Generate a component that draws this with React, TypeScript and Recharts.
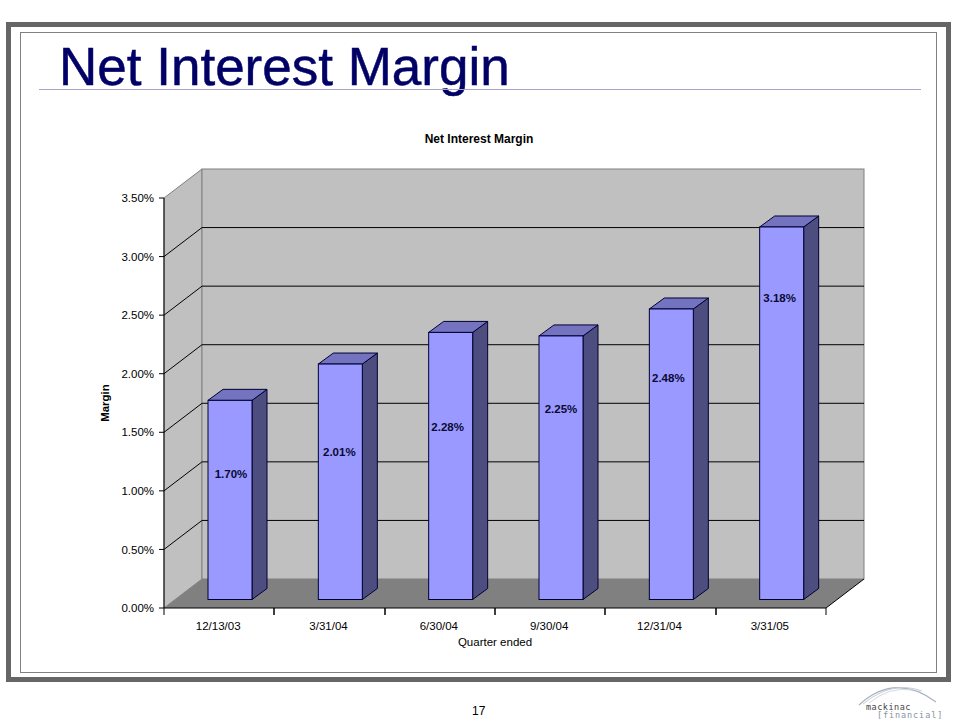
import { BarChart, Bar, XAxis, YAxis, ReferenceArea, ReferenceLine, LabelList } from "recharts";

const quarters = ["12/13/03", "3/31/04", "6/30/04", "9/30/04", "12/31/04", "3/31/05"];
const margins = [1.7, 2.01, 2.28, 2.25, 2.48, 3.18];
const marginTicks = [0, 0.5, 1, 1.5, 2, 2.5, 3, 3.5];
const gridValues = [0.5, 1, 1.5, 2, 2.5, 3];

// hand placed data labels, same as the original slide
const labelNudgeX = [1, -1, -3, 0, -3, -2];
const labelNudgeY = [74, 88, 95, 73, 69, 71];

const data = quarters.map((quarter, i) => ({ quarter, margin: margins[i] }));

const FONT = "'Liberation Sans', Arial, sans-serif";
const MONO = "'DejaVu Sans Mono', monospace";
const DEPTH_X = 38;
const DEPTH_Y = 29;
const BAR_DX = 11;
const BAR_DY = 8.5;
const SIDE_X = 15;
const SIDE_Y = 11;

const pct = (v: number) => v.toFixed(2) + "%";

function Walls({ x, y, width, height }: any) {
  const r = x + width;
  const b = y + height;
  return (
    <g>
      <polygon
        points={`${x},${y} ${x + DEPTH_X},${y - DEPTH_Y} ${x + DEPTH_X},${b - DEPTH_Y} ${x},${b}`}
        fill="#c0c0c0"
        stroke="#808080"
      />
      <rect x={x + DEPTH_X} y={y - DEPTH_Y} width={width} height={height} fill="#c0c0c0" stroke="#808080" />
      <polygon
        points={`${x},${b} ${r},${b} ${r + DEPTH_X},${b - DEPTH_Y} ${x + DEPTH_X},${b - DEPTH_Y}`}
        fill="#808080"
      />
      <line x1={r} y1={b} x2={r + DEPTH_X} y2={b - DEPTH_Y} stroke="#000" />
    </g>
  );
}

function GridLine({ x1, y1, x2, y2 }: any) {
  return (
    <polyline
      points={`${x1},${y1} ${x1 + DEPTH_X},${y1 - DEPTH_Y} ${x2 + DEPTH_X},${y2 - DEPTH_Y}`}
      fill="none"
      stroke="#000"
      strokeWidth={1}
    />
  );
}

function Bar3D({ x, y, width, height }: any) {
  const l = x + BAR_DX;
  const r = l + width;
  const t = y - BAR_DY;
  const b = t + height;
  const stroke = "#000033";
  return (
    <g>
      <polygon
        points={`${r},${t} ${r + SIDE_X},${t - SIDE_Y} ${r + SIDE_X},${b - SIDE_Y} ${r},${b}`}
        fill="#4d4d80"
        stroke={stroke}
      />
      <polygon
        points={`${l},${t} ${l + SIDE_X},${t - SIDE_Y} ${r + SIDE_X},${t - SIDE_Y} ${r},${t}`}
        fill="#7373bf"
        stroke={stroke}
      />
      <rect x={l} y={t} width={width} height={height} fill="#9999ff" stroke={stroke} />
    </g>
  );
}

function ValueLabel({ x, y, width, value, index }: any) {
  return (
    <text
      x={x + BAR_DX + width / 2 + labelNudgeX[index]}
      y={y - BAR_DY + labelNudgeY[index]}
      textAnchor="middle"
      dominantBaseline="central"
      fontFamily={FONT}
      fontSize={11.5}
      fontWeight="bold"
      fill="#0a0a33"
    >
      {pct(value)}
    </text>
  );
}

function QuarterTick({ x, y, width, payload }: any) {
  const half = width / quarters.length / 2;
  const left = Math.round(x - half);
  const right = Math.round(x + half);
  return (
    <g>
      <line x1={left} y1={y - 8} x2={left} y2={y - 1} stroke="#000" />
      <line x1={right} y1={y - 8} x2={right} y2={y - 1} stroke="#000" />
      <text x={x - 1} y={y + 10} textAnchor="middle" dominantBaseline="central" fontFamily={FONT} fontSize={11.5} fill="#000">
        {payload.value}
      </text>
    </g>
  );
}

function Logo() {
  return (
    <svg width={100} height={40} style={{ position: "absolute", left: 850, top: 680 }}>
      <path d="M9 25 Q45 -8 86 22" fill="none" stroke="#a9b2c2" strokeWidth={1.2} />
      <path d="M13 24 Q42 0 72 11" fill="none" stroke="#c5ccd6" strokeWidth={1} />
      <path d="M19 23 Q40 6 62 10" fill="none" stroke="#d5dae2" strokeWidth={1} />
      <text x={16} y={29.5} fontFamily={MONO} fontSize={8.5} letterSpacing={0.5} fill="#444">
        mackinac
      </text>
      <text x={27} y={38} fontFamily={MONO} fontSize={8.5} letterSpacing={0.9} fill="#8a93a3">
        [financial]
      </text>
    </svg>
  );
}

export default function App() {
  return (
    <div style={{ position: "absolute", left: 0, top: 0, width: 960, height: 720, background: "#fff", overflow: "hidden" }}>
      {/* slide frame */}
      <div style={{ position: "absolute", left: 6, top: 22, width: 935, height: 650, border: "5px solid #666" }} />
      <div style={{ position: "absolute", left: 20, top: 32, width: 915, height: 639, border: "1px solid #808080" }} />
      <div
        style={{
          position: "absolute",
          left: 59,
          top: 37,
          fontFamily: FONT,
          fontSize: 53,
          lineHeight: "60px",
          color: "#000066",
          whiteSpace: "nowrap",
          WebkitTextStroke: "0.5px #000066",
        }}
      >
        Net Interest Margin
      </div>
      <div style={{ position: "absolute", left: 39, top: 89, width: 882, height: 1, background: "#a8a4cc" }} />
      <div style={{ position: "absolute", left: 0, top: 0 }}>
        <BarChart
          width={960}
          height={720}
          data={data}
          barSize={44}
          margin={{ top: 198, right: 134, bottom: 82, left: 104 }}
        >
          <ReferenceArea y1={0} y2={3.5} shape={Walls} ifOverflow="visible" zIndex={10} />
          {gridValues.map((v) => (
            <ReferenceLine key={v} y={v} shape={GridLine} ifOverflow="visible" zIndex={20} />
          ))}
          <XAxis
            dataKey="quarter"
            height={30}
            tickLine={false}
            axisLine={{ stroke: "#000" }}
            tick={QuarterTick}
            interval={0}
            label={{
              value: "Quarter ended",
              position: "insideBottom",
              offset: -8,
              style: { fontFamily: FONT, fontSize: 11.5, fill: "#000" },
            }}
          />
          <YAxis
            width={60}
            domain={[0, 3.5]}
            ticks={marginTicks}
            tickFormatter={pct}
            tickSize={5}
            tickMargin={5}
            interval={0}
            axisLine={{ stroke: "#000" }}
            tickLine={{ stroke: "#000" }}
            tick={{ fontFamily: FONT, fontSize: 11.5, fill: "#000" }}
            label={{
              value: "Margin",
              angle: -90,
              position: "insideLeft",
              offset: 1,
              style: { fontFamily: FONT, fontSize: 11.5, fontWeight: "bold", fill: "#000", textAnchor: "middle" },
            }}
          />
          <Bar dataKey="margin" shape={Bar3D} isAnimationActive={false}>
            <LabelList dataKey="margin" content={ValueLabel} />
          </Bar>
          <text x={479} y={139} textAnchor="middle" dominantBaseline="central" fontFamily={FONT} fontSize={12} fontWeight="bold" fill="#000">
            Net Interest Margin
          </text>
        </BarChart>
      </div>
      <div style={{ position: "absolute", left: 472, top: 704, fontFamily: FONT, fontSize: 12, color: "#000" }}>17</div>
      <Logo />
    </div>
  );
}
